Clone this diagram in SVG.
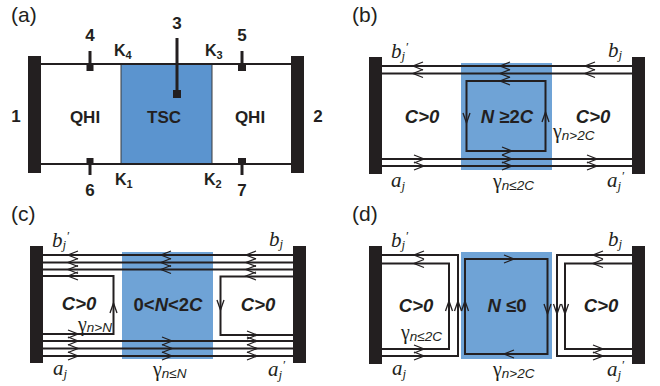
<svg xmlns="http://www.w3.org/2000/svg" width="660" height="386" viewBox="0 0 660 386">
<style>
.bar{fill:#231f20}
.blue{fill:#5b94cf}
.blue2{fill:#6fa3d6}
.w{fill:none;stroke:#231f20;stroke-width:2}
.a{fill:none;stroke:#231f20;stroke-width:1.3}
.p{stroke:#231f20;stroke-width:3;fill:none}
.t{font-family:"Liberation Sans",Arial,sans-serif;fill:#231f20}
.n{font-size:17px;font-weight:bold}
.c{font-size:18.500px;font-weight:bold}
.k{font-size:16px;font-weight:bold}
.lab{font-size:21px}
.i{font-style:italic}
.s{font-family:"Liberation Serif","Times New Roman",serif;font-style:italic;fill:#231f20;font-size:21px}
.ss{font-size:13px}
.g{font-family:"Liberation Serif","Times New Roman",serif;fill:#231f20;font-size:20px}
.gs{font-family:"Liberation Sans",Arial,sans-serif;font-style:italic;font-size:13.500px}
</style>
<defs>
<path id="L" class="a" d="M10-4L0 0L10 4"/>
<path id="R" class="a" d="M-10-4L0 0L-10 4"/>
<path id="U" class="a" d="M-3.500 10L0 0L3.500 10"/>
<path id="D" class="a" d="M-3.500-10L0 0L3.500-10"/>
</defs>

<g id="panel-a">
<text class="t lab" x="11" y="22">(a)</text>
<g id="a-tsc"><rect class="blue" x="121" y="64" width="91" height="100"/><text class="t n" x="164" y="123" text-anchor="middle">TSC</text>
<path d="M121 64V164M212 64V164" stroke="#3a3a3c" fill="none" stroke-width="1"/></g>
<g id="a-wires"><path class="w" d="M41 64H291M41 164H291"/></g>
<g id="a-lead1"><rect class="bar" x="28" y="56" width="13" height="117"/><text class="t n" x="16" y="122" text-anchor="middle">1</text></g>
<g id="a-lead2"><rect class="bar" x="291" y="56" width="13" height="117"/><text class="t n" x="318" y="122" text-anchor="middle">2</text></g>
<g id="a-lead3"><path class="p" d="M177 38V92"/><rect class="bar" x="173" y="90" width="8" height="8"/><text class="t n" x="177" y="29" text-anchor="middle">3</text></g>
<g id="a-lead4"><path class="p" d="M90 51V68"/><rect class="bar" x="86.500" y="65" width="7" height="6"/><text class="t n" x="90" y="41" text-anchor="middle">4</text></g>
<g id="a-lead5"><path class="p" d="M242 51V68"/><rect class="bar" x="238" y="65" width="8" height="6"/><text class="t n" x="242" y="41" text-anchor="middle">5</text></g>
<g id="a-lead6"><path class="p" d="M90 160V175"/><rect class="bar" x="86.500" y="158" width="7" height="7"/><text class="t n" x="90" y="196" text-anchor="middle">6</text></g>
<g id="a-lead7"><path class="p" d="M242 160V175"/><rect class="bar" x="238" y="158" width="8" height="7"/><text class="t n" x="242" y="196" text-anchor="middle">7</text></g>
<g id="a-qhi1"><text class="t n" x="85" y="123" text-anchor="middle">QHI</text></g>
<g id="a-qhi2"><text class="t n" x="250" y="123" text-anchor="middle">QHI</text></g>
<text class="t k" x="114" y="56">K<tspan font-size="11" dy="3">4</tspan></text>
<text class="t k" x="205" y="56">K<tspan font-size="11" dy="3">3</tspan></text>
<text class="t k" x="115" y="185">K<tspan font-size="11" dy="3">1</tspan></text>
<text class="t k" x="204" y="185">K<tspan font-size="11" dy="3">2</tspan></text>
</g>

<g id="panel-b">
<text class="t lab" x="352" y="22">(b)</text>
<g id="b-tsc"><rect class="blue2" x="461" y="63" width="91" height="107"/><text class="t c" x="507" y="123" text-anchor="middle"><tspan class="i">N</tspan> ≥2<tspan class="i">C</tspan></text></g>
<g id="b-connectors">
<path class="w" d="M382 66H632M382 73.500H632M382 159H632M382 166H632"/>
<rect class="w" x="466.500" y="81" width="79" height="70"/>
<use href="#L" x="413" y="66"/><use href="#L" x="413" y="73.500"/>
<use href="#L" x="500" y="66"/><use href="#L" x="500" y="73.500"/><use href="#L" x="500" y="81"/>
<use href="#L" x="585" y="66"/><use href="#L" x="585" y="73.500"/>
<use href="#R" x="424" y="159"/><use href="#R" x="424" y="166"/>
<use href="#R" x="512" y="151"/><use href="#R" x="512" y="159"/><use href="#R" x="512" y="166"/>
<use href="#R" x="597" y="159"/><use href="#R" x="597" y="166"/>
<use href="#D" x="466.500" y="123"/><use href="#U" x="545.500" y="112"/>
</g>
<g id="b-lead-l"><rect class="bar" x="369" y="57" width="13" height="117"/></g>
<g id="b-lead-r"><rect class="bar" x="632" y="57" width="13" height="117"/></g>
<g id="b-c1"><text class="t c i" x="422" y="123" text-anchor="middle">C&gt;0</text></g>
<g id="b-c2"><text class="t c i" x="593" y="123" text-anchor="middle">C&gt;0</text></g>
<text class="s" x="391" y="58">b<tspan class="ss" dy="2">j</tspan><tspan class="ss" dy="-9">′</tspan></text>
<text class="s" x="608" y="57">b<tspan class="ss" dy="2">j</tspan></text>
<text class="s" x="391" y="187">a<tspan class="ss" dy="3">j</tspan></text>
<text class="s" x="607" y="187">a<tspan class="ss" dy="3">j</tspan><tspan class="ss" dy="-10">′</tspan></text>
<text class="g" x="553" y="138">γ<tspan class="gs" dy="2">n&gt;2C</tspan></text>
<text class="g" x="493" y="188">γ<tspan class="gs" dy="2">n≤2C</tspan></text>
</g>

<g id="panel-c">
<text class="t lab" x="11" y="221">(c)</text>
<g id="c-tsc"><rect class="blue2" x="122" y="252" width="91" height="107"/><text class="t c" x="168" y="311" text-anchor="middle">0&lt;<tspan class="i">N</tspan>&lt;2<tspan class="i">C</tspan></text></g>
<g id="c-connectors">
<path class="w" d="M43 255H293M43 262.500H293M43 269.500H293M43 341H293M43 348.500H293M43 356H293"/>
<path class="w" d="M43 276H113.500V334H43M293 276.500H220.500V335H293"/>
<use href="#L" x="68" y="255"/><use href="#L" x="68" y="262.500"/><use href="#L" x="68" y="269.500"/><use href="#L" x="68" y="276"/>
<use href="#L" x="161" y="255"/><use href="#L" x="161" y="262.500"/><use href="#L" x="161" y="269.500"/>
<use href="#L" x="246" y="255"/><use href="#L" x="246" y="262.500"/><use href="#L" x="246" y="269.500"/><use href="#L" x="246" y="276"/>
<use href="#R" x="78" y="334"/><use href="#R" x="78" y="341"/><use href="#R" x="78" y="348.500"/><use href="#R" x="78" y="356"/>
<use href="#R" x="172" y="341"/><use href="#R" x="172" y="348.500"/><use href="#R" x="172" y="356"/>
<use href="#R" x="257" y="335"/><use href="#R" x="257" y="341"/><use href="#R" x="257" y="348.500"/><use href="#R" x="257" y="356"/>
<use href="#U" x="113.500" y="303"/><use href="#D" x="220.500" y="310"/>
</g>
<g id="c-lead-l"><rect class="bar" x="30" y="246" width="13" height="117"/></g>
<g id="c-lead-r"><rect class="bar" x="293" y="246" width="13" height="117"/></g>
<g id="c-c1"><text class="t c i" x="79" y="310" text-anchor="middle">C&gt;0</text></g>
<g id="c-c2"><text class="t c i" x="258" y="311" text-anchor="middle">C&gt;0</text></g>
<text class="s" x="52" y="247">b<tspan class="ss" dy="2">j</tspan><tspan class="ss" dy="-9">′</tspan></text>
<text class="s" x="269" y="246">b<tspan class="ss" dy="2">j</tspan></text>
<text class="s" x="53" y="375">a<tspan class="ss" dy="3">j</tspan></text>
<text class="s" x="268" y="376">a<tspan class="ss" dy="3">j</tspan><tspan class="ss" dy="-10">′</tspan></text>
<text class="g" x="78" y="331">γ<tspan class="gs" dy="1">n&gt;N</tspan></text>
<text class="g" x="153" y="376">γ<tspan class="gs" dy="2">n≤N</tspan></text>
</g>

<g id="panel-d">
<text class="t lab" x="352" y="221">(d)</text>
<g id="d-tsc"><rect class="blue2" x="461" y="252" width="91" height="107"/><text class="t c" x="507" y="312" text-anchor="middle"><tspan class="i">N</tspan> ≤0</text></g>
<g id="d-connectors">
<path class="w" d="M382 255H458V356H382M382 263.500H449V349H382M632 255H557V356H632M632 263.500H565V349H632"/>
<rect class="w" x="465" y="259" width="82.500" height="95"/>
<use href="#L" x="414" y="255"/><use href="#L" x="414" y="263.500"/>
<use href="#R" x="514" y="259"/><use href="#L" x="504" y="354"/>
<use href="#L" x="593" y="255"/><use href="#L" x="593" y="263.500"/>
<use href="#R" x="424" y="349"/><use href="#R" x="424" y="356"/>
<use href="#R" x="603" y="349"/><use href="#R" x="603" y="356"/>
<use href="#U" x="449" y="301"/><use href="#U" x="458" y="301"/><use href="#U" x="465" y="301"/>
<use href="#D" x="547.500" y="314"/><use href="#D" x="557" y="314"/><use href="#D" x="565" y="314"/>
</g>
<g id="d-lead-l"><rect class="bar" x="369" y="246" width="13" height="118"/></g>
<g id="d-lead-r"><rect class="bar" x="632" y="246" width="13" height="118"/></g>
<g id="d-c1"><text class="t c i" x="416" y="312" text-anchor="middle">C&gt;0</text></g>
<g id="d-c2"><text class="t c i" x="601" y="312" text-anchor="middle">C&gt;0</text></g>
<text class="s" x="391" y="247">b<tspan class="ss" dy="2">j</tspan><tspan class="ss" dy="-9">′</tspan></text>
<text class="s" x="608" y="246">b<tspan class="ss" dy="2">j</tspan></text>
<text class="s" x="392" y="375">a<tspan class="ss" dy="3">j</tspan></text>
<text class="s" x="607" y="376">a<tspan class="ss" dy="3">j</tspan><tspan class="ss" dy="-10">′</tspan></text>
<text class="g" x="401" y="339">γ<tspan class="gs" dy="2">n≤2C</tspan></text>
<text class="g" x="493" y="376">γ<tspan class="gs" dy="2">n&gt;2C</tspan></text>
</g>
</svg>
